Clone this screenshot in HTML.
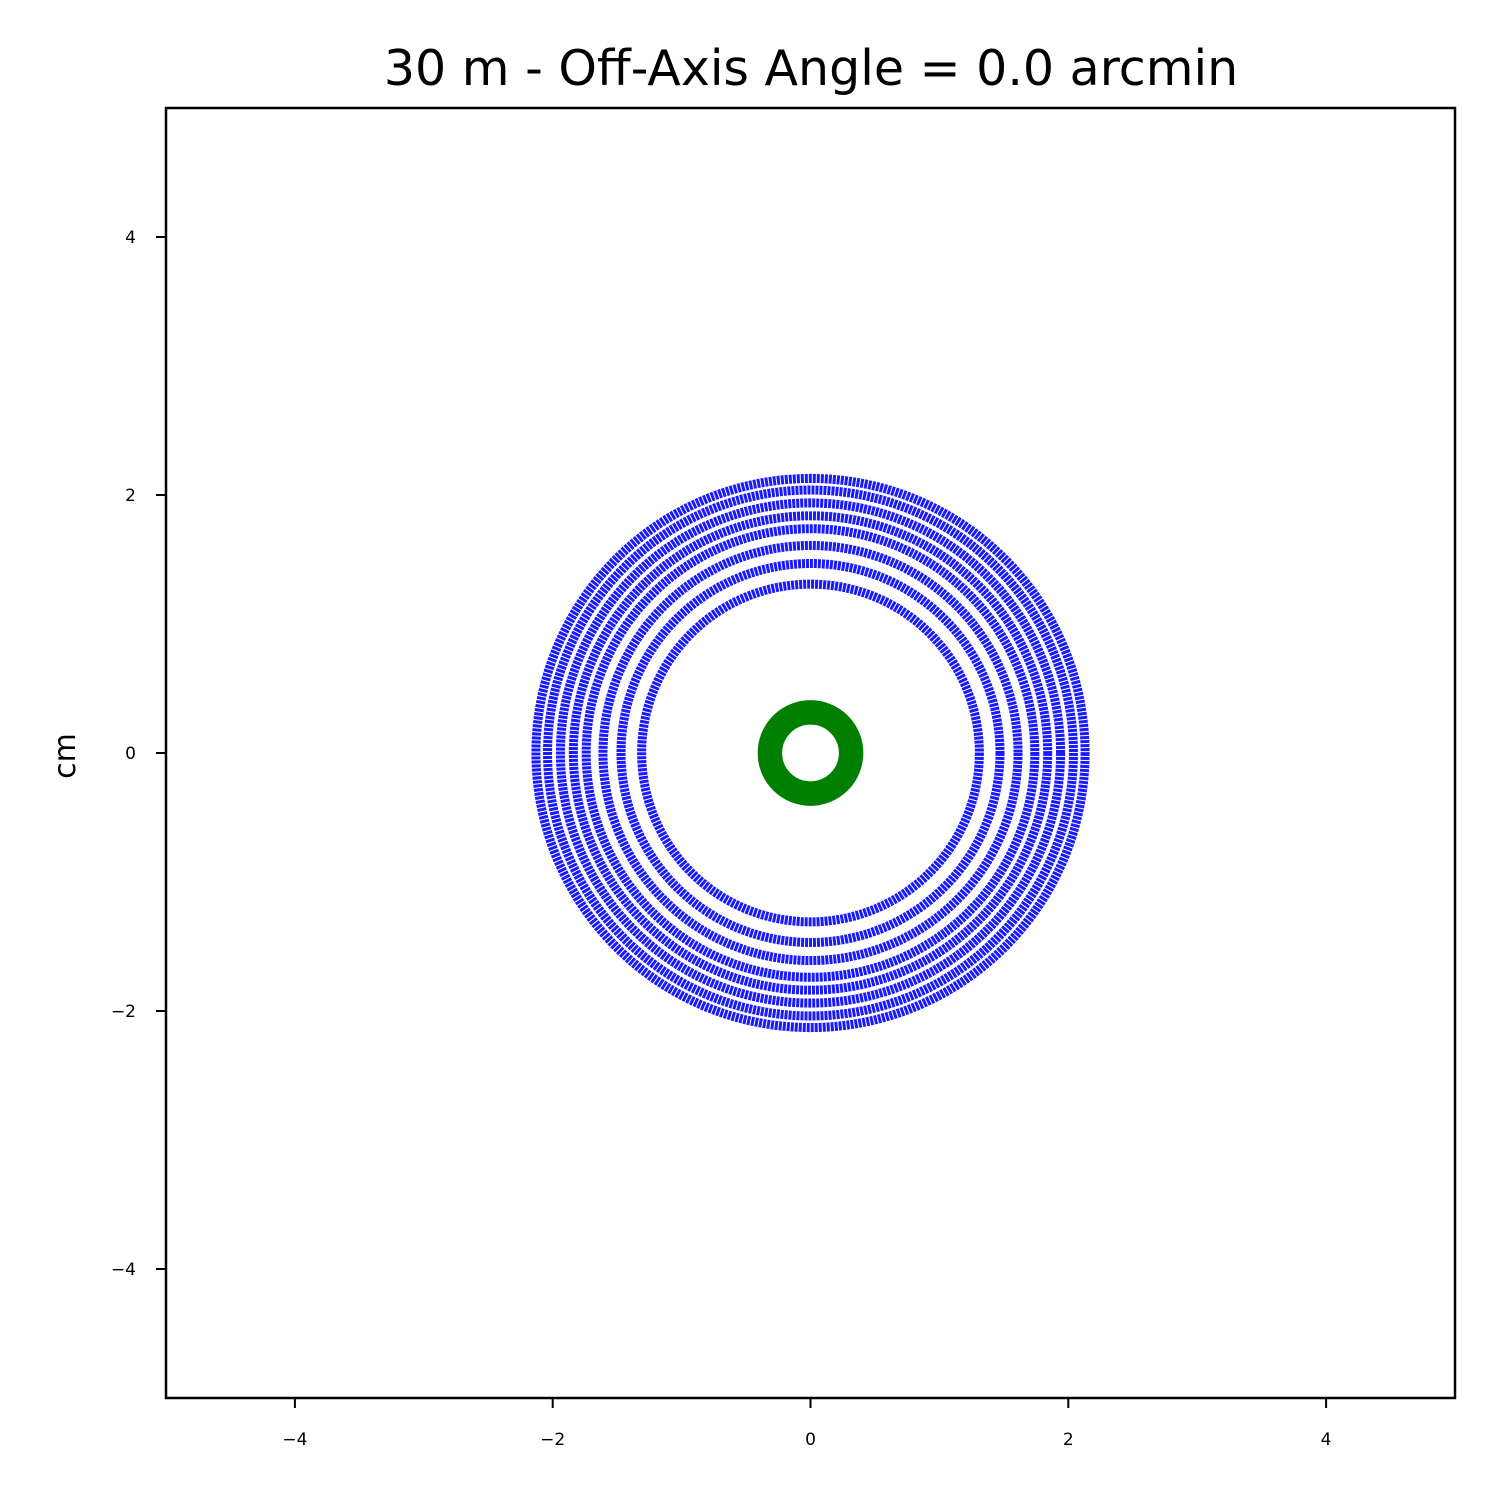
<!DOCTYPE html>
<html><head><meta charset="utf-8"><style>body{margin:0;background:#fff}svg{display:block}text{font-family:"DejaVu Sans","Liberation Sans",sans-serif}</style></head>
<body>
<svg id="chart" width="1500" height="1500" viewBox="0 0 1500 1500">
<rect width="1500" height="1500" fill="#fff"/>
<text x="811" y="85" font-size="49" text-anchor="middle">30 m - Off-Axis Angle = 0.0 arcmin</text>
<text x="75" y="756" font-size="30" text-anchor="middle" transform="rotate(-90 75 756)">cm</text>
<g id="plot"></g>
<rect x="166" y="108" width="1289" height="1290" fill="none" stroke="#000" stroke-width="2.5"/>
<g id="axes"></g>
</svg>
<script>
const xTicks=[-4,-2,0,2,4];
const yTicks=[-4,-2,0,2,4];
const ringRadii=[1.31,1.47,1.61,1.74,1.84,1.94,2.04,2.13];
const ringWidth=0.07;
const greenInner=0.22;
const greenOuter=0.41;
const x0=166,x1=1455,y0=1398,y1=108,dmin=-5,dmax=5;
const sx=v=>x0+(v-dmin)/(dmax-dmin)*(x1-x0);
const sy=v=>y0-(v-dmin)/(dmax-dmin)*(y0-y1);
const scale=(x1-x0)/(dmax-dmin);
const NS="http://www.w3.org/2000/svg";
const plot=document.getElementById('plot'),axes=document.getElementById('axes');
function mk(t,a,p){const e=document.createElementNS(NS,t);for(const k in a)e.setAttribute(k,a[k]);p.appendChild(e);return e;}
ringRadii.forEach((r,i)=>{
 const c=mk('circle',{cx:sx(0),cy:sy(0),r:r*scale,fill:'none',stroke:'#1a1aff','stroke-width':ringWidth*scale,'stroke-dasharray':'3 1'},plot);
 
 
});
const g=mk('circle',{cx:sx(0),cy:sy(0),r:(greenInner+greenOuter)/2*scale,fill:'none',stroke:'#008000','stroke-width':(greenOuter-greenInner)*scale},plot);


xTicks.forEach(v=>{
 const l=mk('line',{x1:sx(v),x2:sx(v),y1:y0,y2:y0+10,stroke:'#000','stroke-width':2},axes);
 
 
 const t=mk('text',{x:sx(v),y:y0+47,'font-size':17,'text-anchor':'middle'},axes);
 t.textContent=v<0?'\u2212'+Math.abs(v):String(v);
 
 
});
yTicks.forEach(v=>{
 const l=mk('line',{x1:x0-10,x2:x0,y1:sy(v),y2:sy(v),stroke:'#000','stroke-width':2},axes);
 
 
 const t=mk('text',{x:x0-30,y:sy(v)+6,'font-size':17,'text-anchor':'end'},axes);
 t.textContent=v<0?'\u2212'+Math.abs(v):String(v);
 
 
});
</script>
</body></html>
